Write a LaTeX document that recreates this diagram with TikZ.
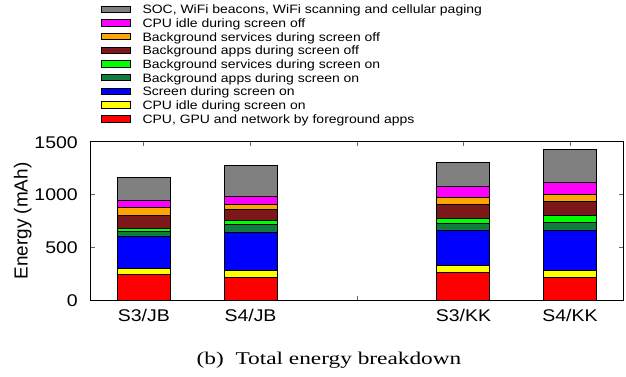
\documentclass[tikz,border=0pt]{standalone}
\usepackage{graphicx}
\usepackage{fontspec}
\setmainfont{Liberation Serif}
\setsansfont{Liberation Sans}
\definecolor{cgray}{RGB}{128,128,128}
\definecolor{cmag}{RGB}{255,0,255}
\definecolor{corange}{RGB}{255,165,0}
\definecolor{cmaroon}{RGB}{125,24,26}
\definecolor{cgreen}{RGB}{0,255,0}
\definecolor{cdkgreen}{RGB}{16,125,62}
\definecolor{cblue}{RGB}{0,0,255}
\definecolor{cyellow}{RGB}{255,255,0}
\definecolor{cred}{RGB}{255,0,0}
\newcommand\wx[2]{\scalebox{#1}[1]{#2}}
\newcommand\stackbar[3]{%
  \foreach \ya/\yb/\c in {#3} {\filldraw[segbox, fill=\c] (#1,\ya) rectangle (#2,\yb);}}
\tikzset{
  segbox/.style={draw=black, line width=0.9bp},
  legbox/.style={draw=black, line width=0.9bp},
  legtext/.style={anchor=base west, inner sep=0pt, font=\sffamily\fontsize{12.2}{14}\selectfont},
  ticklab/.style={anchor=base east, inner sep=0pt, font=\sffamily\fontsize{17}{20}\selectfont},
  xlab/.style={anchor=base, inner sep=0pt, font=\sffamily\fontsize{17}{20}\selectfont},
  axisline/.style={draw=black, line width=0.9bp},
  tickline/.style={draw=black!60, line width=0.9bp}
}
\begin{document}
\begin{tikzpicture}[x=1bp,y=-1bp]
\useasboundingbox (0,0) rectangle (626,376);
% legend
\foreach \c/\t [count=\i from 0] in {
  cgray/{SOC, WiFi beacons, WiFi scanning and cellular paging},
  cmag/{CPU idle during screen off},
  corange/{Background services during screen off},
  cmaroon/{Background apps during screen off},
  cgreen/{Background services during screen on},
  cdkgreen/{Background apps during screen on},
  cblue/{Screen during screen on},
  cyellow/{CPU idle during screen on},
  cred/{CPU, GPU and network by foreground apps}} {
  \pgfmathsetmacro\yc{9.2+13.7*\i}
  \filldraw[legbox, fill=\c] (101.7,\yc-3.2) rectangle (130,\yc+3.2);
  \node[legtext] (leg\i) at (142.3,\yc+4.4) {\wx{1.15}{\t}};
}
% ticks
\foreach \y in {194.3,247.3} {
  \draw[tickline] (90.5,\y) -- (95,\y);
  \draw[tickline] (623,\y) -- (618.5,\y);
}
\foreach \x in {143.8,250.5,357,463.5,570} {
  \draw[tickline] (\x,141) -- (\x,145.5);
  \draw[tickline] (\x,300) -- (\x,295.5);
}
% bars
\stackbar{117.3}{170.3}{300/274.3/cred,274.3/268.3/cyellow,268.3/236.3/cblue,236.3/231.3/cdkgreen,231.3/228.7/cgreen,228.7/215/cmaroon,215/207.7/corange,207.7/200.7/cmag,200.7/177.3/cgray}
\stackbar{224}{277.3}{300/277/cred,277/270/cyellow,270/232.3/cblue,232.3/224.3/cdkgreen,224.3/220.3/cgreen,220.3/209.3/cmaroon,209.3/204.3/corange,204.3/196.7/cmag,196.7/165.3/cgray}
\stackbar{436.3}{489.7}{300/272/cred,272/265.7/cyellow,265.7/230/cblue,230/223.3/cdkgreen,223.3/218.3/cgreen,218.3/204.3/cmaroon,204.3/197.7/corange,197.7/186.7/cmag,186.7/162.3/cgray}
\stackbar{543}{596.3}{300/277/cred,277/270.7/cyellow,270.7/230.7/cblue,230.7/222/cdkgreen,222/215.7/cgreen,215.7/201/cmaroon,201/194/corange,194/182.7/cmag,182.7/149/cgray}
% axes frame
\draw[axisline] (90.5,141) rectangle (623,300);
% y tick labels
\node[ticklab] (t0) at (78,306) {\wx{1.15}{0}};
\node[ticklab] (t500) at (78,253.3) {\wx{1.15}{500}};
\node[ticklab] (t1000) at (78,200.3) {\wx{1.15}{1000}};
\node[ticklab] (t1500) at (78,148) {\wx{1.15}{1500}};
% x labels
\node[xlab] (x1) at (143.8,321.5) {\wx{1.15}{S3/JB}};
\node[xlab] (x2) at (250.5,321.5) {\wx{1.15}{S4/JB}};
\node[xlab] (x3) at (463.5,321.5) {\wx{1.15}{S3/KK}};
\node[xlab] (x4) at (570,321.5) {\wx{1.15}{S4/KK}};
% y label
\node[anchor=base, inner sep=0pt, rotate=90, font=\sffamily\fontsize{19}{22}\selectfont] (ylab) at (27.6,221) {Energy (mAh)};
% caption
\node[anchor=base, inner sep=0pt, font=\rmfamily\fontsize{18}{22}\selectfont] (cap) at (329,364.3) {\wx{1.3}{(b)\enspace Total energy breakdown}};
\end{tikzpicture}
\end{document}
